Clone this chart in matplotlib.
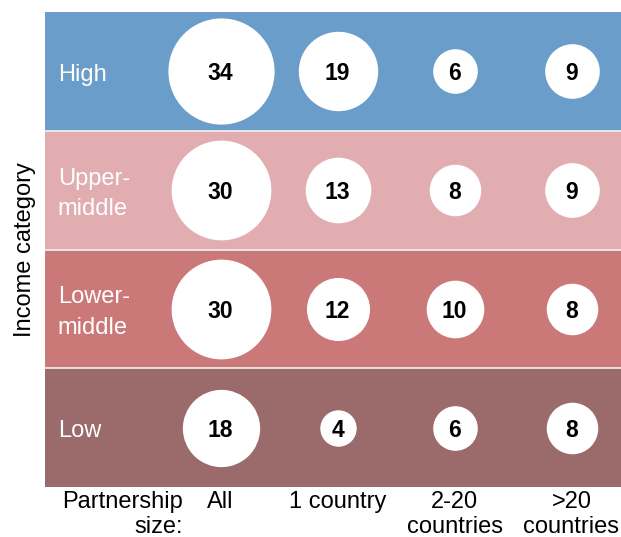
import matplotlib.pyplot as plt

plt.rcParams['font.family'] = ['Liberation Sans', 'DejaVu Sans']

# income groups, top to bottom
incomes = ['High', 'Upper-\nmiddle', 'Lower-\nmiddle', 'Low']
band_colors = ['#6a9dca', '#e1adb0', '#cb7879', '#9b6a6a']
sizes = ['All', '1 country', '2-20\ncountries', '>20\ncountries']

counts = [
    [34, 19, 6, 9],
    [30, 13, 8, 9],
    [30, 12, 10, 8],
    [18, 4, 6, 8],
]

W, H = 621, 537
fig = plt.figure(figsize=(W / 100, H / 100), dpi=100)
ax = fig.add_axes([45 / W, 50 / H, 576 / W, 475 / H])
ax.set_xlim(0, 576 / 117)
ax.set_ylim(0, len(incomes))
ax.axis('off')

n = len(incomes)
for i, (name, col) in enumerate(zip(incomes, band_colors)):
    y = n - 1 - i
    ax.axhspan(y, y + 1, color=col, zorder=0)
    if i > 0:
        ax.axhline(y + 1, color='#f2f2f2', lw=1.2, zorder=1)
    ax.text(0.11, y + 0.47, name, color='white', fontsize=17,
            va='center', ha='left', linespacing=1.48)
    for j, v in enumerate(counts[i]):
        x = j + 1.5
        ax.scatter(x, y + 0.5, s=172 * v, color='white', zorder=2,
                   linewidths=0)
        ax.text(x, y + 0.5, str(v), fontsize=16.5, fontweight='bold',
                ha='center', va='center_baseline', zorder=3)

# column labels under the grid
for j, lab in enumerate(sizes):
    ax.text(j + 1.5, -0.03, lab, fontsize=17, ha='center', va='top',
            linespacing=1.2)
ax.text(1.18, -0.03, 'Partnership\nsize:', fontsize=17, ha='right',
        va='top', multialignment='right', linespacing=1.2)

fig.text(25 / W, 1 - 250 / H, 'Income category', rotation=90,
         fontsize=17, ha='center', va='center')

fig.savefig('out.png', dpi=100)
